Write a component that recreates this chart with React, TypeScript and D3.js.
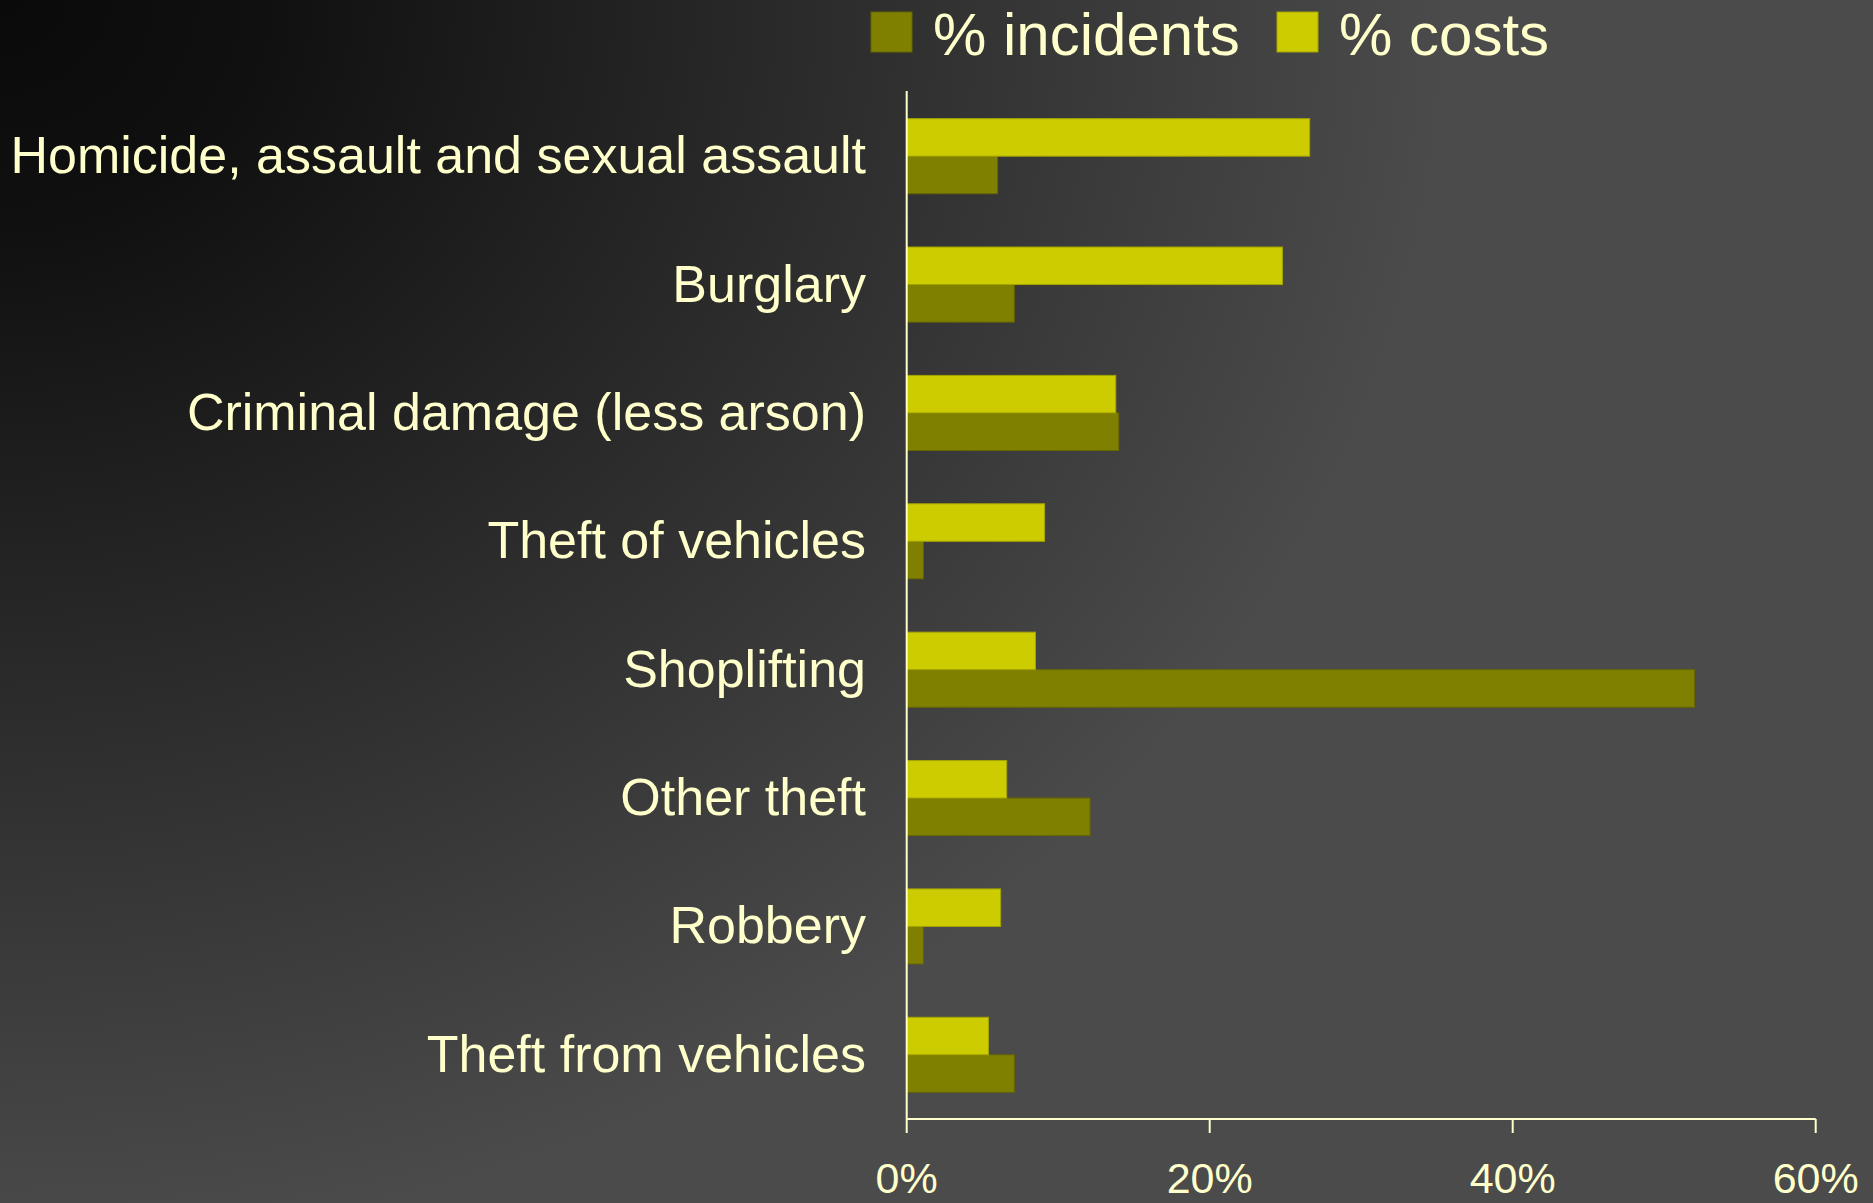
import React, { useEffect, useRef } from 'react';
import * as d3 from 'd3';

const categories = [
    'Homicide, assault and sexual assault',
    'Burglary',
    'Criminal damage (less arson)',
    'Theft of vehicles',
    'Shoplifting',
    'Other theft',
    'Robbery',
    'Theft from vehicles',
];
const incidents = [6.0, 7.1, 14.0, 1.1, 52.0, 12.1, 1.1, 7.1];
const costs = [26.6, 24.8, 13.8, 9.1, 8.5, 6.6, 6.2, 5.4];
const seriesNames = ['% incidents', '% costs'];
const xTicks = [0, 20, 40, 60];

const W = 1873;
const H = 1203;
const TEXT = '#ffffcc';
const FONT = '"Liberation Sans", Arial, sans-serif';

const App: React.FC = () => {
    const ref = useRef<SVGSVGElement | null>(null);

    useEffect(() => {
        if (!ref.current) return;
        const svg = d3.select(ref.current);
        svg.selectAll('*').remove();

        // background gradient, dark in the top-left corner
        const defs = svg.append('defs');
        const grad = defs.append('radialGradient')
            .attr('id', 'bg')
            .attr('gradientUnits', 'userSpaceOnUse')
            .attr('cx', 0).attr('cy', 0).attr('r', 1)
            .attr('gradientTransform', 'scale(1450,1250)');
        grad.append('stop').attr('offset', 0).attr('stop-color', '#0a0a0a');
        grad.append('stop').attr('offset', 0.18).attr('stop-color', '#101010');
        grad.append('stop').attr('offset', 1).attr('stop-color', '#4b4b4b');
        svg.append('rect').attr('width', W).attr('height', H).attr('fill', 'url(#bg)');

        const x = d3.scaleLinear().domain([0, 60]).range([906.7, 1815.7]);
        const y = d3.scaleBand<string>().domain(categories).range([92, 1119]);
        const inner = d3.scaleBand<string>()
            .domain(['costs', 'incidents'])
            .range([0, y.step()])
            .paddingInner(0)
            .paddingOuter(0.71);

        const colors: Record<string, string> = { incidents: '#808000', costs: '#cccc00' };
        const strokes: Record<string, string> = { incidents: '#666600', costs: '#a3a300' };

        // bars
        const rows = categories.map((c, i) => ({ c, incidents: incidents[i], costs: costs[i] }));
        (['incidents', 'costs'] as const).forEach(key => {
            svg.append('g').selectAll('rect')
                .data(rows)
                .enter()
                .append('rect')
                .attr('x', x(0))
                .attr('y', d => y(d.c)! + inner(key)!)
                .attr('width', d => x(d[key]) - x(0))
                .attr('height', inner.bandwidth())
                .attr('fill', colors[key])
                .attr('stroke', strokes[key])
                .attr('stroke-width', 1);
        });

        // category labels
        svg.append('g').selectAll('text')
            .data(categories)
            .enter()
            .append('text')
            .attr('x', 866)
            .attr('y', d => y(d)! + y.step() / 2 + 17)
            .attr('text-anchor', 'end')
            .style('font-family', FONT)
            .style('font-size', '52px')
            .style('fill', TEXT)
            .text(d => d);

        // value axis
        const axis = svg.append('g');
        axis.append('line')
            .attr('x1', x(0)).attr('x2', x(0))
            .attr('y1', 91).attr('y2', 1119)
            .attr('stroke', TEXT).attr('stroke-width', 2);
        axis.append('line')
            .attr('x1', x(0)).attr('x2', x(60))
            .attr('y1', 1119).attr('y2', 1119)
            .attr('stroke', TEXT).attr('stroke-width', 2);
        axis.selectAll('line.tick')
            .data(xTicks)
            .enter()
            .append('line')
            .attr('class', 'tick')
            .attr('x1', d => x(d)).attr('x2', d => x(d))
            .attr('y1', 1119).attr('y2', 1133)
            .attr('stroke', TEXT).attr('stroke-width', 2);
        axis.selectAll('text')
            .data(xTicks)
            .enter()
            .append('text')
            .attr('x', d => x(d))
            .attr('y', 1193)
            .attr('text-anchor', 'middle')
            .style('font-family', FONT)
            .style('font-size', '43px')
            .style('fill', TEXT)
            .text(d => `${d}%`);

        // legend
        const legend = svg.append('g');
        const legendX = [871, 1277];
        seriesNames.forEach((name, i) => {
            const key = i === 0 ? 'incidents' : 'costs';
            legend.append('rect')
                .attr('x', legendX[i]).attr('y', 12)
                .attr('width', 41).attr('height', 40)
                .attr('fill', colors[key])
                .attr('stroke', strokes[key]);
            legend.append('text')
                .attr('x', legendX[i] + 62)
                .attr('y', 55)
                .style('font-family', FONT)
                .style('font-size', '60px')
                .style('fill', TEXT)
                .text(name);
        });
    }, []);

    return (
        <svg
            ref={ref}
            width={W}
            height={H}
            style={{ position: 'absolute', left: 0, top: 0, display: 'block' }}
        />
    );
};

export default App;
